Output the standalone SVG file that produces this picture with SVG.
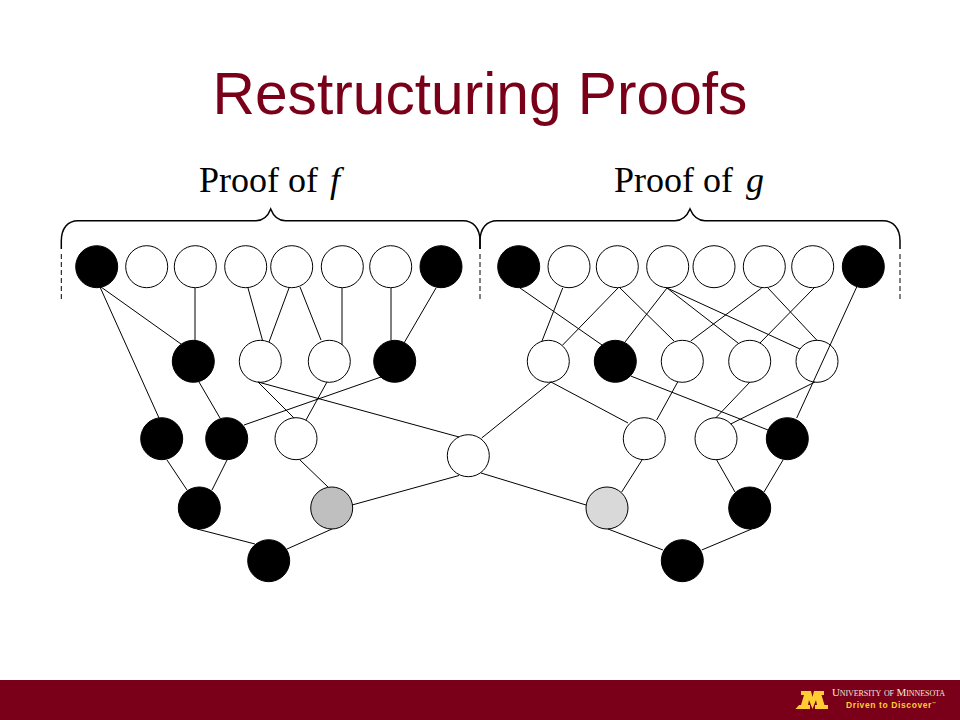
<svg xmlns="http://www.w3.org/2000/svg" width="960" height="720" viewBox="0 0 960 720">
<style>
.n{stroke:#000;stroke-width:1}
.w{fill:#fff}
.b{fill:#000}
#connectors line{stroke:#000;stroke-width:1}
.brace{fill:none;stroke:#000;stroke-width:1.5}
.dash{fill:none;stroke:#000;stroke-width:1;stroke-dasharray:5 3}
.lab{font-family:"Liberation Serif",serif;font-size:36px;fill:#000}
</style>
<rect width="960" height="720" fill="#fff"/>
<text x="480" y="114" text-anchor="middle" font-family="Liberation Sans, Arial, sans-serif" font-size="58.700" fill="#7a0019">Restructuring Proofs</text>
<text class="lab" x="199" y="192">Proof of <tspan font-style="italic" dx="3">f</tspan></text>
<text class="lab" x="614" y="192">Proof of <tspan font-style="italic" dx="4">g</tspan></text>
<g id="braces">
<path class="brace" d="M61.3 249V241C61.3 228 68 220.7 78 220.7H256C264 220.7 268 216 270.7 209C273.4 216 277.4 220.7 285.4 220.7H463C473 220.7 480 228 480 241V249"/>
<path class="brace" d="M480 249V241C480 228 487 220.7 497 220.7H675C683 220.7 687 216 690 209C693 216 697 220.7 705 220.7H883C893 220.7 900 228 900 241V249"/>
<path class="dash" d="M61.3 254V301M480 254V301M900 254V301"/>
</g>
<g id="nodes">
<g id="t1"><circle class="n b" cx="96.7" cy="266.7" r="21"/></g>
<g id="t2"><circle class="n w" cx="146.7" cy="266.7" r="21"/></g>
<g id="t3"><circle class="n w" cx="195.3" cy="266.7" r="21"/></g>
<g id="t4"><circle class="n w" cx="245.7" cy="266.7" r="21"/></g>
<g id="t5"><circle class="n w" cx="291.7" cy="266.7" r="21"/></g>
<g id="t6"><circle class="n w" cx="342.3" cy="266.7" r="21"/></g>
<g id="t7"><circle class="n w" cx="390.7" cy="266.7" r="21"/></g>
<g id="t8"><circle class="n b" cx="441" cy="266.7" r="21"/></g>
<g id="t9"><circle class="n b" cx="518.7" cy="266.7" r="21"/></g>
<g id="t10"><circle class="n w" cx="569" cy="266.7" r="21"/></g>
<g id="t11"><circle class="n w" cx="617.3" cy="266.7" r="21"/></g>
<g id="t12"><circle class="n w" cx="667.7" cy="266.7" r="21"/></g>
<g id="t13"><circle class="n w" cx="714" cy="266.7" r="21"/></g>
<g id="t14"><circle class="n w" cx="764.3" cy="266.7" r="21"/></g>
<g id="t15"><circle class="n w" cx="812.7" cy="266.7" r="21"/></g>
<g id="t16"><circle class="n b" cx="863.3" cy="266.7" r="21"/></g>
<g id="m1"><circle class="n b" cx="193.3" cy="361.3" r="21"/></g>
<g id="m2"><circle class="n w" cx="260.3" cy="361.3" r="21"/></g>
<g id="m3"><circle class="n w" cx="329.3" cy="361.3" r="21"/></g>
<g id="m4"><circle class="n b" cx="394.7" cy="361.3" r="21"/></g>
<g id="m5"><circle class="n w" cx="548.3" cy="361.3" r="21"/></g>
<g id="m6"><circle class="n b" cx="615.3" cy="361.3" r="21"/></g>
<g id="m7"><circle class="n w" cx="682.3" cy="361.3" r="21"/></g>
<g id="m8"><circle class="n w" cx="749.7" cy="361.3" r="21"/></g>
<g id="m9"><circle class="n w" cx="817" cy="361.3" r="21"/></g>
<g id="r1"><circle class="n b" cx="161.7" cy="438.7" r="21"/></g>
<g id="r2"><circle class="n b" cx="226.7" cy="438.7" r="21"/></g>
<g id="r3"><circle class="n w" cx="296" cy="438.7" r="21"/></g>
<g id="r4"><circle class="n w" cx="644.3" cy="438.7" r="21"/></g>
<g id="r5"><circle class="n w" cx="716" cy="438.7" r="21"/></g>
<g id="r6"><circle class="n b" cx="787.3" cy="438.7" r="21"/></g>
<g id="center"><circle class="n w" cx="468.3" cy="455.7" r="21"/></g>
<g id="s1"><circle class="n b" cx="199.3" cy="508" r="21"/></g>
<g id="s2"><circle class="n" fill="#bfbfbf" cx="331.7" cy="508" r="21"/></g>
<g id="s3"><circle class="n" fill="#d9d9d9" cx="607" cy="508" r="21"/></g>
<g id="s4"><circle class="n b" cx="749.7" cy="508" r="21"/></g>
<g id="b1"><circle class="n b" cx="268.7" cy="560.7" r="21"/></g>
<g id="b2"><circle class="n b" cx="682.3" cy="560.7" r="21"/></g>
</g>
<g id="connectors">
<line x1="100" y1="287" x2="159" y2="418"/>
<line x1="101" y1="287" x2="181" y2="344"/>
<line x1="195" y1="288" x2="195" y2="340"/>
<line x1="248" y1="288" x2="262.7" y2="341"/>
<line x1="289" y1="288" x2="269" y2="342"/>
<line x1="300" y1="287" x2="321" y2="340"/>
<line x1="342" y1="288" x2="342" y2="345"/>
<line x1="391" y1="288" x2="391" y2="340"/>
<line x1="436" y1="288" x2="404" y2="343"/>
<line x1="199" y1="382" x2="220" y2="418"/>
<line x1="258" y1="382" x2="294" y2="418"/>
<line x1="258" y1="382" x2="459" y2="437"/>
<line x1="327" y1="382" x2="306" y2="420"/>
<line x1="381" y1="377" x2="244" y2="425"/>
<line x1="167" y1="460" x2="187" y2="490"/>
<line x1="227" y1="460" x2="212" y2="490"/>
<line x1="300" y1="460" x2="328" y2="487"/>
<line x1="197" y1="529" x2="255" y2="544"/>
<line x1="332" y1="529" x2="287" y2="549"/>
<line x1="352" y1="505" x2="459" y2="475.5"/>
<line x1="481.7" y1="438" x2="551" y2="382"/>
<line x1="481" y1="473" x2="586" y2="505"/>
<line x1="520" y1="288" x2="602" y2="345"/>
<line x1="562.7" y1="288" x2="542" y2="341"/>
<line x1="618" y1="288" x2="562.7" y2="345"/>
<line x1="620" y1="288" x2="674" y2="341"/>
<line x1="667" y1="288" x2="625" y2="342"/>
<line x1="667" y1="288" x2="738" y2="343"/>
<line x1="667" y1="288" x2="800" y2="349"/>
<line x1="761.7" y1="288" x2="690.7" y2="341"/>
<line x1="768" y1="288" x2="816.7" y2="340"/>
<line x1="814" y1="288" x2="760" y2="343"/>
<line x1="856.7" y1="287" x2="796.7" y2="418"/>
<line x1="551" y1="382" x2="628" y2="423"/>
<line x1="630.7" y1="376" x2="768" y2="430"/>
<line x1="677.7" y1="382" x2="656.7" y2="420"/>
<line x1="750" y1="382" x2="715.7" y2="418"/>
<line x1="815" y1="382" x2="730.7" y2="424"/>
<line x1="642" y1="460" x2="621.7" y2="492"/>
<line x1="716.7" y1="460" x2="735" y2="492"/>
<line x1="783" y1="460" x2="764" y2="492"/>
<line x1="608" y1="529" x2="663" y2="550"/>
<line x1="751.7" y1="529" x2="701.7" y2="550"/>
</g>
<g id="footer">
<rect x="0" y="680" width="960" height="40" fill="#7a0019"/>
<path fill="#ffcc33" d="M795.500 709L799 705H801L804 695H801V691H811L812.500 697L814 691H824V695H821.500L824.500 705H828V709H815V705H817L816 700L812.500 709L809 700L808 705H810V709Z"/>
<text x="832" y="696" font-family="Liberation Serif, serif" font-size="11" font-variant="small-caps" fill="#f5e6da" textLength="113">University of Minnesota</text>
<text x="846" y="708" font-family="Liberation Sans, sans-serif" font-size="8.500" font-weight="bold" fill="#ffcc33" textLength="90">Driven to Discover<tspan font-size="4" dy="-3">™</tspan></text>
</g>
</svg>
